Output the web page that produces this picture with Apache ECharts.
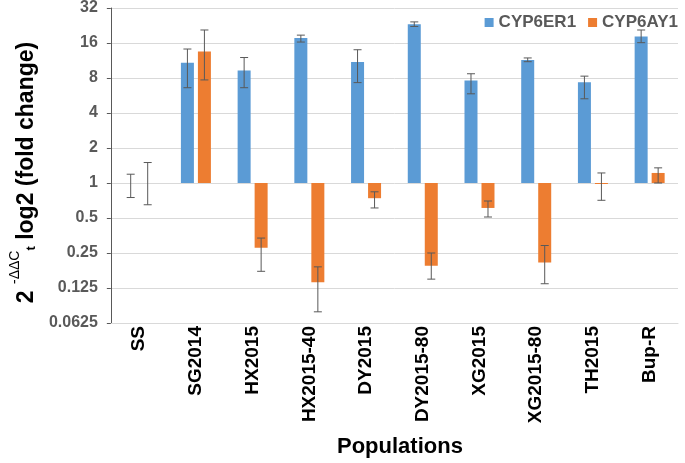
<!DOCTYPE html>
<html>
<head>
<meta charset="utf-8">
<script src="https://cdn.jsdelivr.net/npm/echarts@6/dist/echarts.min.js"></script>
<style>
html,body{margin:0;padding:0;background:#fff;}
#chart{width:685px;height:463px;}
</style>
</head>
<body>
<div id="chart"></div>
<script>
// ---- data ----
const categories = ['SS','SG2014','HX2015','HX2015-40','DY2015','DY2015-80','XG2015','XG2015-80','TH2015','Bup-R'];
const seriesNames = ['CYP6ER1','CYP6AY1'];
const cyp6er1 = [1, 10.8, 9.3, 17.7, 11.0, 23.2, 7.6, 11.4, 7.35, 18.2];
const cyp6er1High = [1.19, 14.2, 12.0, 18.7, 14.0, 24.3, 8.7, 11.9, 8.3, 20.7];
const cyp6er1Low = [0.75, 6.6, 6.6, 16.3, 7.3, 22.2, 5.85, 11.05, 5.3, 16.1];
const cyp6ay1 = [1, 13.5, 0.277, 0.14, 0.74, 0.194, 0.61, 0.207, 0.98, 1.22];
const cyp6ay1High = [1.5, 20.7, 0.336, 0.19, 0.84, 0.25, 0.70, 0.29, 1.22, 1.35];
const cyp6ay1Low = [0.65, 7.7, 0.174, 0.078, 0.61, 0.149, 0.51, 0.136, 0.71, 1.0];
const yMin = 0.0625, yMax = 32;

// ---- style ----
const BAR_W = 13, BAR_GAP = 4;
const colors = ['#5B9BD5', '#ED7D31'];
const FONT = 'Liberation Sans, Arial, Helvetica, sans-serif';

function errorSeries(low, high, side) {
  return {
    type: 'custom',
    silent: true,
    z: 5,
    data: categories.map((c, i) => [i, low[i], high[i]]),
    encode: { x: 0, y: [1, 2] },
    renderItem: function (params, api) {
      const idx = api.value(0);
      const off = side * (BAR_W + BAR_GAP) / 2;
      const pLo = api.coord([idx, api.value(1)]);
      const pHi = api.coord([idx, api.value(2)]);
      const x = pLo[0] + off;
      const cap = 4;
      const st = { stroke: '#595959', lineWidth: 1 };
      return {
        type: 'group',
        children: [
          { type: 'line', shape: { x1: x, y1: pLo[1], x2: x, y2: pHi[1] }, style: st },
          { type: 'line', shape: { x1: x - cap, y1: pLo[1], x2: x + cap, y2: pLo[1] }, style: st },
          { type: 'line', shape: { x1: x - cap, y1: pHi[1], x2: x + cap, y2: pHi[1] }, style: st }
        ]
      };
    }
  };
}

const chart = echarts.init(document.getElementById('chart'), null, { renderer: 'canvas' });
chart.setOption({
  animation: false,
  backgroundColor: '#ffffff',
  textStyle: { fontFamily: FONT },
  color: colors,
  legend: {
    data: seriesNames,
    right: 2, top: 9,
    icon: 'rect', itemWidth: 9, itemHeight: 9, itemGap: 12,
    textStyle: { fontSize: 17, fontWeight: 'bold', color: '#595959', fontFamily: FONT }
  },
  grid: { left: 89, right: 7, top: 8, bottom: 138, containLabel: false },
  xAxis: {
    type: 'category',
    data: categories,
    axisLine: { show: true, lineStyle: { color: '#d9d9d9', width: 1 } },
    axisTick: { show: false },
    axisLabel: { rotate: 90, margin: 3, fontSize: 19, fontWeight: 'bold', color: '#000', fontFamily: FONT, interval: 0, padding: [0, 0, 8, 0] },
    name: 'Populations',
    nameLocation: 'middle',
    nameGap: 113,
    nameTextStyle: { fontSize: 22, fontWeight: 'bold', color: '#000', fontFamily: FONT, padding: [0, 0, 0, 11] }
  },
  yAxis: {
    type: 'log',
    logBase: 2,
    min: yMin, max: yMax,
    axisLine: { show: true, lineStyle: { color: '#595959', width: 1 } },
    axisTick: { show: true, inside: false, length: 4, lineStyle: { color: '#595959' } },
    splitLine: { show: true, lineStyle: { color: '#d9d9d9', width: 1 } },
    axisLabel: {
      margin: 13, fontSize: 16, fontWeight: 'bold', color: '#595959', fontFamily: FONT,
      formatter: function (v) { return String(+Number(v).toPrecision(6)); }
    },
    name: '{m|2 }{sup|-ΔΔC}{sub|t}{m| log2 (fold change)}',
    nameLocation: 'middle',
    nameRotate: 90,
    nameGap: 60,
    nameTextStyle: {
      padding: [0, 14, 0, 0],
      rich: {
        m: { fontSize: 23, fontWeight: 'bold', color: '#000', fontFamily: FONT, lineHeight: 30, verticalAlign: 'bottom' },
        sup: { fontSize: 14, color: '#000', fontFamily: FONT, lineHeight: 16, verticalAlign: 'top' },
        sub: { fontSize: 13, fontWeight: 'bold', color: '#000', fontFamily: FONT, lineHeight: 14, verticalAlign: 'bottom' }
      }
    }
  },
  series: [
    { name: seriesNames[0], type: 'bar', data: cyp6er1, barWidth: BAR_W, barGap: (BAR_GAP / BAR_W * 100) + '%', itemStyle: { color: colors[0] } },
    { name: seriesNames[1], type: 'bar', data: cyp6ay1, barWidth: BAR_W, itemStyle: { color: colors[1] } },
    errorSeries(cyp6er1Low, cyp6er1High, -1),
    errorSeries(cyp6ay1Low, cyp6ay1High, 1)
  ]
});
</script>
</body>
</html>
